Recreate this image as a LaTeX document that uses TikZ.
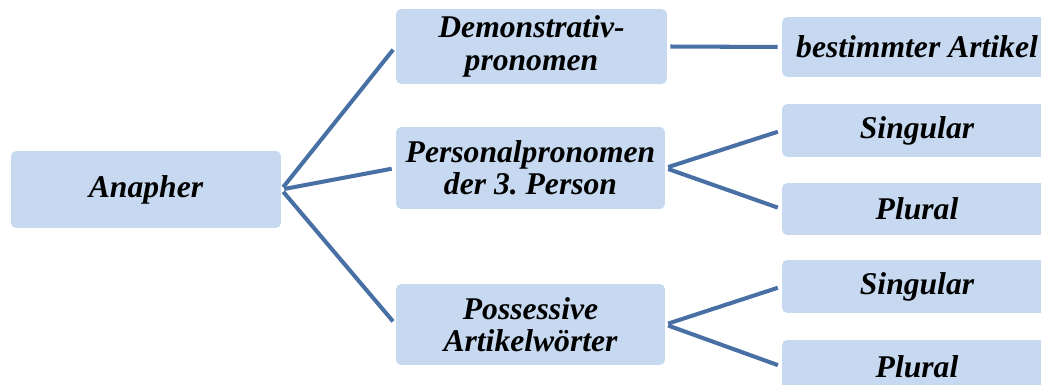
\documentclass[tikz,border=0pt]{standalone}
\usepackage{fontspec}
\setmainfont{Liberation Serif}
\definecolor{boxblue}{RGB}{198,217,240}
\definecolor{linkblue}{RGB}{72,112,165}
\begin{document}
\begin{tikzpicture}[x=0.02cm,y=-0.02cm,
        term/.style={fill=boxblue,rounded corners=3pt,inner sep=2pt,align=center,
            font=\fontsize{18}{18.5}\selectfont\bfseries\itshape\frenchspacing},
        link/.style={linkblue,line width=2.3pt,shorten <=1.7pt,shorten >=2.3pt}]
        \clip (0,0) rectangle (1041,385);
        % first level
        \node [term,minimum width=5.4cm,minimum height=1.54cm] (ana) at (146,189.5) {Anapher};
        % second level
        \node [term,minimum width=5.42cm,minimum height=1.5cm] (dem) at (531.5,46.5) {Demonstrativ-\\pronomen};
        \node [term,minimum width=5.38cm,minimum height=1.64cm] (pers) at (530.5,168) {Personalpronomen\\der 3. Person};
        \node [term,minimum width=5.38cm,minimum height=1.62cm] (poss) at (530.5,324.5) {Possessive\\Artikelw\"orter};
        % third level
        \node [term,minimum width=5.4cm,minimum height=1.2cm] (best) at (917,47) {bestimmter Artikel};
        \node [term,minimum width=5.4cm,minimum height=1.06cm] (sgA) at (917,130.5) {Singular};
        \node [term,minimum width=5.4cm,minimum height=1.04cm] (plA) at (917,209) {Plural};
        \node [term,minimum width=5.4cm,minimum height=1.06cm] (sgB) at (917,286.5) {Singular};
        \node [term,minimum width=5.4cm,minimum height=1.06cm] (plB) at (917,366.5) {Plural};
        % connectors
        \draw [link] (ana.east) -- (dem.west);
        \draw [link] (ana.east) -- (pers.west);
        \draw [link] (ana.east) -- (poss.west);
        \draw [link] (dem.east) -- (best.west);
        \draw [link] (pers.east) -- (sgA.west);
        \draw [link] (pers.east) -- (plA.west);
        \draw [link] (poss.east) -- (sgB.west);
        \draw [link] (poss.east) -- (plB.west);
\end{tikzpicture}
\end{document}
